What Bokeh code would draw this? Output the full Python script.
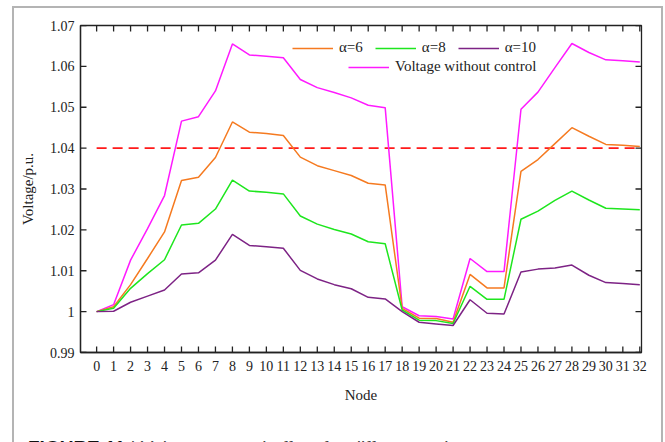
from bokeh.plotting import figure
from bokeh.layouts import column
from bokeh.models import (Range1d, FixedTicker, CustomJSTickFormatter,
                          Legend, LegendItem, Div)
from bokeh.embed import file_html
from bokeh.resources import INLINE

nodes = list(range(33))
v_no_control = [1.0000, 1.0017, 1.0126, 1.0203, 1.0284, 1.0466, 1.0477, 1.0540, 1.0655, 1.0628,
                1.0625, 1.0621, 1.0568, 1.0548, 1.0536, 1.0523, 1.0505, 1.0499, 1.0012, 0.9990,
                0.9988, 0.9982, 1.0130, 1.0098, 1.0098, 1.0495, 1.0537, 1.0597, 1.0656, 1.0634,
                1.0616, 1.0614, 1.0611]
v_a6 = [1.0000, 1.0012, 1.0066, 1.0130, 1.0195, 1.0321, 1.0329, 1.0377, 1.0464, 1.0439,
        1.0436, 1.0431, 1.0378, 1.0357, 1.0345, 1.0333, 1.0314, 1.0310, 1.0008, 0.9984,
        0.9983, 0.9974, 1.0091, 1.0058, 1.0058, 1.0343, 1.0372, 1.0411, 1.0450, 1.0429,
        1.0409, 1.0407, 1.0404]
v_a8 = [1.0000, 1.0008, 1.0057, 1.0093, 1.0127, 1.0212, 1.0216, 1.0251, 1.0322, 1.0295,
        1.0292, 1.0288, 1.0234, 1.0214, 1.0201, 1.0190, 1.0171, 1.0166, 1.0004, 0.9979,
        0.9978, 0.9971, 1.0062, 1.0030, 1.0030, 1.0226, 1.0246, 1.0272, 1.0295, 1.0273,
        1.0253, 1.0251, 1.0249]
v_a10 = [1.0000, 1.0001, 1.0023, 1.0038, 1.0053, 1.0092, 1.0095, 1.0126, 1.0189, 1.0162,
         1.0159, 1.0155, 1.0101, 1.0080, 1.0066, 1.0056, 1.0035, 1.0031, 1.0000, 0.9974,
         0.9970, 0.9966, 1.0029, 0.9996, 0.9994, 1.0097, 1.0104, 1.0107, 1.0114, 1.0089,
         1.0071, 1.0069, 1.0066]
limit = 1.04
y_ticks = [0.99, 1.0, 1.01, 1.02, 1.03, 1.04, 1.05, 1.06, 1.07]
x_label = "Node"
y_label = "Voltage/p.u."
caption_bold = "FIGURE 11"
caption_rest = "| Voltage control effect for different values"

SERIF = "Liberation Serif"
X0, X1 = -0.95, 32.1
Y0, Y1 = 0.99, 1.07
FRAME_W, FRAME_H = 561, 327
FIG_W, FIG_H = 647, 402
BL, BT = 66, 17

fig = figure(width=FIG_W, height=FIG_H, output_backend="svg", toolbar_location=None,
             x_range=Range1d(X0, X1), y_range=Range1d(Y0, Y1),
             min_border_left=BL, min_border_right=FIG_W - BL - FRAME_W,
             min_border_top=BT, min_border_bottom=FIG_H - BT - FRAME_H)
fig.grid.visible = False
fig.outline_line_color = "#222222"
fig.outline_line_width = 1.3
fig.background_fill_color = "white"
fig.border_fill_color = "white"

def style_axis(ax):
    ax.axis_line_color = "#222222"
    ax.axis_line_width = 1.3
    ax.major_tick_line_color = None
    ax.minor_tick_line_color = None
    ax.major_tick_in = 0
    ax.major_tick_out = 0
    ax.major_label_text_font = SERIF
    ax.major_label_text_font_size = "14px"
    ax.major_label_text_color = "#222222"
    ax.axis_label_text_font = SERIF
    ax.axis_label_text_font_size = "15px"
    ax.axis_label_text_font_style = "normal"
    ax.axis_label_text_color = "#222222"

xa = fig.xaxis[0]
xa.ticker = FixedTicker(ticks=nodes)
xa.axis_label = x_label
style_axis(xa)
xa.major_label_standoff = 8
xa.axis_label_standoff = 13

ya = fig.yaxis[0]
ya.ticker = FixedTicker(ticks=y_ticks)
ya.formatter = CustomJSTickFormatter(code="return (Math.round(tick*100)/100).toString();")
ya.axis_label = y_label
style_axis(ya)
ya.major_label_standoff = 6
ya.axis_label_standoff = 11

# inward ticks on all four sides (6 px long)
tx = 6 * (X1 - X0) / FRAME_W
ty = 6 * (Y1 - Y0) / FRAME_H
tick_kw = dict(line_color="#222222", line_width=1.3)
fig.segment(x0=nodes, y0=[Y0] * len(nodes), x1=nodes, y1=[Y0 + ty] * len(nodes), **tick_kw)
fig.segment(x0=nodes, y0=[Y1] * len(nodes), x1=nodes, y1=[Y1 - ty] * len(nodes), **tick_kw)
fig.segment(x0=[X0] * len(y_ticks), y0=y_ticks, x1=[X0 + tx] * len(y_ticks), y1=y_ticks, **tick_kw)
fig.segment(x0=[X1] * len(y_ticks), y0=y_ticks, x1=[X1 - tx] * len(y_ticks), y1=y_ticks, **tick_kw)

fig.line(nodes, [limit] * len(nodes), line_color="#ff1a1a", line_width=1.6, line_dash="10 6")
r_nc = fig.line(nodes, v_no_control, line_color="#ff1aff", line_width=1.5)
r6 = fig.line(nodes, v_a6, line_color="#f57a20", line_width=1.5)
r8 = fig.line(nodes, v_a8, line_color="#1ee61e", line_width=1.5)
r10 = fig.line(nodes, v_a10, line_color="#7d2385", line_width=1.5)

def make_legend(items, loc):
    return Legend(items=items, location=loc, orientation="horizontal",
                  glyph_width=41, glyph_height=16, label_standoff=6, spacing=12,
                  padding=0, margin=0, border_line_alpha=0, background_fill_alpha=0,
                  label_text_font=SERIF, label_text_font_size="15px", label_text_color="#222222")

lg1 = make_legend([LegendItem(label="\u03b1=6", renderers=[r6]),
                   LegendItem(label="\u03b1=8", renderers=[r8]),
                   LegendItem(label="\u03b1=10", renderers=[r10])], (212, 296))
lg2 = make_legend([LegendItem(label="Voltage without control", renderers=[r_nc])], (268, 277))
fig.add_layout(lg1, "center")
fig.add_layout(lg2, "center")

caption = Div(
    text=('<div style="font-family:\'Liberation Sans\',sans-serif;font-size:19px;'
          'color:#444;white-space:nowrap;line-height:22px">'
          '<b style="color:#111">' + caption_bold + '</b> ' + caption_rest + '</div>'),
    width=620, height=30, margin=(27, 0, 0, 14))

p = column(fig, caption, margin=(6, 0, 0, 12),
           styles={"border": "2px solid #b4b4b4", "background": "white"})

open("out.html", "w").write(file_html(p, INLINE))
